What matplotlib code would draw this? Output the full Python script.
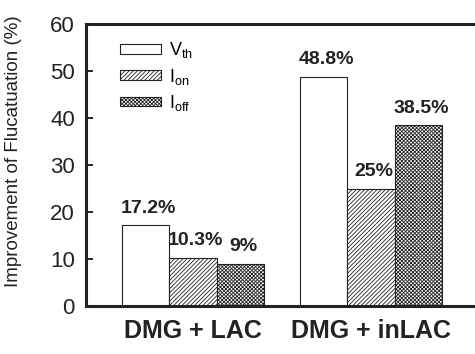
import numpy as np
import matplotlib.pyplot as plt
from matplotlib.patches import Patch

plt.rcParams['font.family'] = ['Liberation Sans', 'DejaVu Sans']
plt.rcParams['mathtext.fontset'] = 'custom'
plt.rcParams['mathtext.rm'] = 'Liberation Sans'
plt.rcParams['mathtext.it'] = 'Liberation Sans'
plt.rcParams['hatch.linewidth'] = 0.6

# data
groups = ['DMG + LAC', 'DMG + inLAC']
v_th = [17.2, 48.8]
i_on = [10.3, 25]
i_off = [9, 38.5]

fig = plt.figure(figsize=(4.75, 3.54), dpi=100)
ax = fig.add_axes([86 / 475, 1 - 306 / 354, 389 / 475, 282 / 354])

centers = np.array([0, 3.75])
w = 1.0
ink = '#222222'
b1 = ax.bar(centers - w, v_th, w, color='white', edgecolor=ink, linewidth=0.8)
b2 = ax.bar(centers, i_on, w, color='white', edgecolor=ink, linewidth=0.8, hatch='////////')
b3 = ax.bar(centers + w, i_off, w, color='white', edgecolor=ink, linewidth=0.8, hatch='xxxxxxxxx')

for bars, vals in ((b1, v_th), (b2, i_on), (b3, i_off)):
    for rect, v in zip(bars, vals):
        ax.annotate(f'{v:g}%', (rect.get_x() + rect.get_width() / 2, v),
                    xytext=(2, 6), textcoords='offset points',
                    ha='center', va='bottom', fontsize=14, fontweight='bold',
                    color=ink)

ax.set_xlim(-2.25, 5.94)
ax.set_ylim(0, 60)
ax.set_yticks(range(0, 61, 10))
ax.set_xticks(centers)
ax.set_xticklabels(groups, fontsize=18, fontweight='bold', color=ink)
ax.tick_params(axis='x', length=0, pad=9)
ax.tick_params(axis='y', direction='in', labelsize=16, length=5, width=1.2,
               labelcolor=ink, pad=8)
ax.set_ylabel('Improvement of Flucatuation (%)', fontsize=13.5, color=ink)
ax.yaxis.set_label_coords(-0.165, 0.55)

for s in ('left', 'top', 'bottom'):
    ax.spines[s].set_linewidth(2.2)
    ax.spines[s].set_color(ink)
ax.spines['right'].set_visible(False)

handles = [
    Patch(facecolor='white', edgecolor=ink, linewidth=0.8),
    Patch(facecolor='white', edgecolor=ink, linewidth=0.8, hatch='////////'),
    Patch(facecolor='white', edgecolor=ink, linewidth=0.8, hatch='xxxxxxxxx'),
]
labels = ['V$_{\\rm th}$', 'I$_{\\rm on}$', 'I$_{\\rm off}$']
ax.legend(handles, labels, loc='upper left', bbox_to_anchor=(0.045, 1.0),
          frameon=False, fontsize=13, handlelength=2.3, handleheight=0.45,
          labelspacing=0.35, handletextpad=0.4)

fig.savefig('out.png', dpi=100)
